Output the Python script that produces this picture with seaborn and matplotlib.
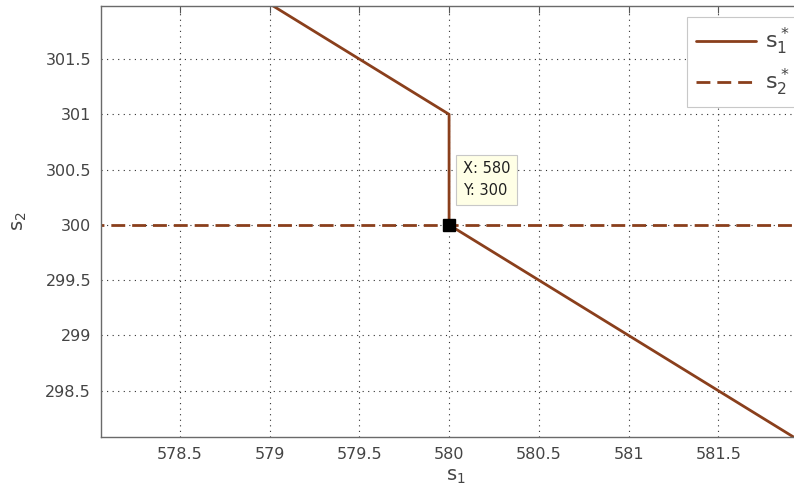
import numpy as np
import pandas as pd
import seaborn as sns
import matplotlib.pyplot as plt

# values
s1_x = [578.0, 580.0, 580.0, 582.0]
s1_y = [303.0, 301.0, 300.0, 298.0]
s2_x = [578.0, 582.5]
s2_y = [300.0, 300.0]
tip_x = 580
tip_y = 300
x_ticks = [578.5, 579, 579.5, 580, 580.5, 581, 581.5]
y_ticks = [298.5, 299, 299.5, 300, 300.5, 301, 301.5]

brown = "#8a3f1c"
text_col = "#444444"

sns.set_style("white")
plt.rcParams["font.family"] = ["DejaVu Sans"]
plt.rcParams["mathtext.fontset"] = "custom"
plt.rcParams["mathtext.rm"] = "DejaVu Sans"
plt.rcParams["mathtext.it"] = "DejaVu Sans"

fig = plt.figure(figsize=(7.94, 4.99), dpi=100)
# the right edge of the axes runs past the picture, as in the reference
ax = fig.add_axes([0.127, 0.124, 0.893, 0.864])

df1 = pd.DataFrame({"s1": s1_x, "s2": s1_y})
df2 = pd.DataFrame({"s1": s2_x, "s2": s2_y})
sns.lineplot(data=df1, x="s1", y="s2", sort=False, estimator=None, color=brown,
             lw=2, ax=ax, label=r"$s_1^*$")
sns.lineplot(data=df2, x="s1", y="s2", sort=False, estimator=None, color=brown,
             lw=2, ls=(0, (5, 2.5)), ax=ax, label=r"$s_2^*$")

# data tip
ax.plot([tip_x], [tip_y], marker="s", ms=9, color="black", zorder=5)
ax.annotate(f"X: {tip_x}\nY: {tip_y}", xy=(tip_x, tip_y), xytext=(10, 19),
            textcoords="offset points", fontsize=10.5, color="#202020",
            linespacing=1.6, ha="left", va="bottom",
            bbox=dict(boxstyle="square,pad=0.45", fc="#ffffe6", ec="#c8c8c8", lw=0.8))

ax.set_xlim(578.06, 582.01)
ax.set_ylim(298.08, 301.98)
ax.set_xticks(x_ticks)
ax.set_yticks(y_ticks)
ax.set_xticklabels([f"{v:g}" for v in x_ticks])
ax.set_yticklabels([f"{v:g}" for v in y_ticks])
ax.grid(True, ls=(0, (1, 4)), color="#303030", lw=0.8)
ax.tick_params(direction="in", length=5, colors="#555555", labelcolor=text_col,
               labelsize=11.5, pad=7, top=True, right=True)
for sp in ax.spines.values():
    sp.set_color("#6a6a6a")
    sp.set_linewidth(1.0)

ax.set_xlabel(r"$s_1$", fontsize=14, color=text_col, labelpad=4)
ax.set_ylabel(r"$s_2$", fontsize=14, color=text_col, labelpad=12)

leg = ax.legend(loc="upper right", fontsize=16, frameon=True, fancybox=False,
                framealpha=1, edgecolor="#c8c8c8", handlelength=2.7,
                borderaxespad=0.5, labelspacing=0.45, handletextpad=0.4)
leg.get_frame().set_linewidth(0.8)
for t in leg.get_texts():
    t.set_color(text_col)

fig.savefig("out.png", dpi=100)
